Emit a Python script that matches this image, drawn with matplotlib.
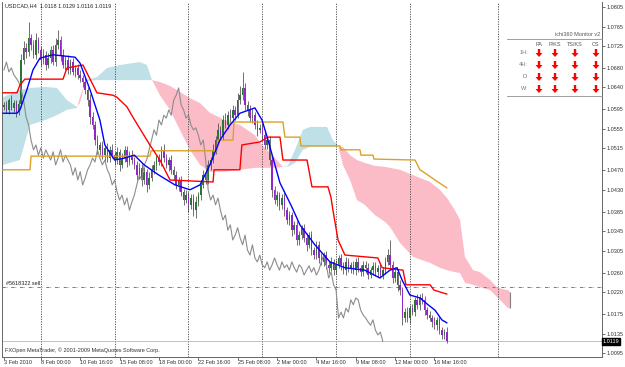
import matplotlib
matplotlib.use("Agg")
import matplotlib.pyplot as plt
from matplotlib.patches import FancyArrow
import numpy as np

plt.rcParams['font.family'] = ['Liberation Sans', 'DejaVu Sans']

# USDCAD H4 from 3 Feb 2010 12:00, prices given in pips above 1.0000
close_pips = [
    604, 594, 614, 598, 608, 590, 606,
    696, 721,
    713, 741, 727, 707, 737, 717,
    696, 707, 686, 700, 717, 692,
    727, 737,
    707, 686, 696, 676, 692, 672, 680, 666,
    659, 651, 635, 614, 579, 563,
    532, 512, 522, 501, 516, 495, 512, 501,
    491, 508, 481, 495, 512, 487, 501, 491,
    481, 460, 475, 450, 467, 440, 454, 471,
    481, 495, 487, 512, 495, 481, 491, 471,
    460, 440, 450, 425, 409, 419, 399, 413, 388, 405,
    419, 440, 460, 450, 481, 491,
    512, 532, 553, 542, 573, 563, 583, 577,
    594, 583, 614, 624,
    639,
    604, 594, 577, 583, 563, 553, 557,
    542, 522, 532, 491,
    430, 409, 419, 399, 413,
    388, 368, 378, 347, 358, 327, 337, 352, 331,
    317, 337, 306, 296, 317, 290, 282, 296, 276,
    270, 282, 265, 276, 290, 276, 265, 282, 270,
    276, 265, 282, 270, 261, 276, 270, 255, 265, 274,
    261, 270, 255, 265, 282, 296,
    276,
    249, 261, 235, 224, 167,
    179, 167, 187, 179, 204, 194, 208,
    204, 183, 173, 167, 159,
    152, 163, 142, 132, 138, 119,
]
wick_up = [
    6, 8, 5, 10, 6, 7, 9, 12, 15, 10,
    33, 8, 10, 14, 6, 9, 12, 7, 10, 8,
    11, 15, 21, 9, 12, 8, 10, 7, 9, 6,
    8, 10, 7, 9, 6, 12, 10, 8, 11, 7,
    9, 6, 10, 8, 12, 7, 9, 6, 10, 8,
    7, 9, 11, 6, 8, 10, 7, 9, 6, 12,
    10, 8, 6, 9, 7, 11, 8, 6, 10, 7,
    9, 6, 8, 7, 10, 6, 9, 8, 12, 7,
    9, 11, 8, 10, 7, 12, 9, 14, 8, 10,
    15, 9, 12, 10, 8, 14, 18, 33, 10, 8,
    9, 12, 7, 10, 8, 9, 11, 7, 8, 10,
    7, 9, 6, 8, 10, 7, 9, 6, 8, 7,
    9, 6, 8, 10, 7, 9, 6, 8, 7, 10,
    6, 8, 7, 9, 6, 10, 7, 8, 6, 9,
    7, 6, 8, 7, 9, 6, 8, 7, 10, 6,
    8, 7, 6, 9, 7, 10, 12, 30, 8, 10,
    7, 9, 6, 8, 10, 7, 9, 6, 12, 8,
    10, 7, 6, 8, 7, 9, 6, 8, 7, 6,
    10,
]
wick_dn = [
    7, 6, 9, 5, 8, 10, 6, 7, 8, 12,
    8, 10, 6, 9, 7, 12, 8, 10, 6, 9,
    7, 9, 8, 12, 6, 10, 8, 9, 7, 10,
    9, 7, 10, 8, 12, 14, 9, 11, 8, 10,
    7, 12, 8, 9, 6, 10, 8, 12, 7, 9,
    10, 7, 9, 8, 11, 7, 12, 9, 15, 8,
    7, 9, 10, 6, 8, 9, 7, 12, 8, 10,
    9, 12, 8, 10, 7, 14, 9, 11, 16, 8,
    10, 7, 9, 8, 10, 6, 9, 7, 8, 10,
    6, 9, 8, 7, 10, 6, 8, 9, 10, 12,
    8, 10, 9, 12, 7, 10, 8, 9, 11, 14,
    9, 12, 10, 8, 11, 9, 10, 12, 8, 10,
    11, 9, 8, 12, 7, 10, 9, 8, 10, 7,
    9, 8, 10, 7, 9, 8, 7, 10, 8, 9,
    8, 10, 7, 9, 8, 7, 9, 10, 8, 7,
    9, 8, 10, 7, 9, 8, 7, 9, 10, 8,
    12, 10, 14, 9, 8, 10, 7, 9, 8, 10,
    8, 10, 9, 7, 11, 8, 10, 7, 9, 8,
    3,
]

# tenkan-sen (blue)
tenkan_bar = [-0.4, 5.3, 6.5, 9.3, 11.8, 14.6, 19.9, 28.9, 30.9, 35, 39, 41, 45, 49, 53, 57,
              63, 69.5, 75.6, 79.7, 83.7, 87.8, 91.9, 95.9, 102, 104.9, 107, 112.2, 117,
              120.3, 126.4, 132.5, 138.6, 146.7, 152.8, 156.9, 159.8, 161.8, 165, 169.1,
              172.4, 175.2, 178, 180]
tenkan_pips = [587, 587, 594, 635, 676, 700, 707, 702, 690, 635, 573, 522, 491, 495, 501, 481,
               460, 440, 430, 440, 481, 532, 563, 587, 598, 573, 538, 444, 395,
               358, 317, 282, 270, 265, 249, 265, 270, 245, 214, 208,
               194, 183, 163, 157]

# kijun-sen (red)
kijun_bar = [-0.4, 5.3, 6.5, 8.5, 24, 25.6, 32.1, 34.1, 37.8, 44.3, 45.9, 50, 52.4, 59.3,
             63.4, 67.5, 85, 85.4, 95.9, 96.7, 104, 107.3, 112.2, 113.4, 123.2, 125.2,
             131.7, 132.9, 133.7, 135.8, 138.6, 152, 153.7, 162.2, 163.4, 173.2, 174.8, 180]
kijun_pips = [629, 629, 645, 657, 657, 680, 686, 666, 629, 624, 620, 600, 579, 522,
              491, 450, 446, 471, 471, 522, 528, 538, 538, 491, 491, 436,
              436, 415, 389, 327, 296, 290, 270, 265, 235, 235, 224, 216]

# higher timeframe kijun (gold)
gold_bar = [-0.4, 10.6, 11, 59.3, 59.8, 86.6, 87, 93.1, 93.5, 113.4, 114.2, 120.3, 120.7,
            136.6, 137, 144.7, 145.1, 150, 150.4, 167.1, 169.1, 172.4, 175.2, 180]
gold_pips = [471, 471, 499, 499, 510, 510, 532, 532, 569, 569, 538, 538, 520,
             520, 512, 512, 501, 501, 493, 491, 471, 460, 450, 434]

# kumo (senkou span A / B, shifted 26 bars ahead)
kumo_bar = [-0.4, 6.5, 10.6, 16.7, 21.5, 25.6, 29.7, 30.9, 33.3, 37.8, 41.9, 47.2, 52.4,
            55.3, 58.1, 60.2, 63.4, 67.5, 71.5, 75.6, 79.7, 83.7, 89.8, 95.9, 102,
            104.9, 110.2, 113.4, 115.4, 118.3, 121.5, 124.4, 131.3, 133.7, 135.8,
            137.8, 140.7, 143.5, 146.7, 150.8, 154.9, 156.9, 161, 166.3, 173.2,
            177.2, 180.1, 183.3, 185.4, 187.4, 190.7, 193.5, 197.6, 200.4, 202.8,
            204.9, 205.7]
span_a_pips = [620, 635, 639, 641, 639, 614, 600, 608, 655, 661, 680, 686, 690,
               692, 686, 655, 624, 594, 553, 512, 481, 467, 467, 471, 475,
               475, 475, 477, 479, 512, 553, 559, 559, 532, 520,
               481, 450, 409, 399, 378, 364, 354, 321, 292, 280,
               270, 265, 261, 259, 239, 235, 230, 224, 210, 198,
               187, 187]
span_b_pips = [481, 491, 563, 573, 583, 594, 598, 620, 653, 655, 655, 655, 655,
               655, 655, 655, 651, 643, 631, 618, 608, 588, 573, 563, 542,
               522, 495, 477, 477, 485, 512, 518, 518, 518, 518,
               518, 501, 491, 485, 479, 477, 475, 471, 460, 446,
               430, 413, 388, 368, 292, 265, 261, 245, 230, 226,
               224, 220]

date_bars = [0, 15, 31, 47, 63, 79, 95, 111, 127, 143, 159, 175]
date_labels = ["3 Feb 2010", "8 Feb 00:00", "10 Feb 16:00", "15 Feb 08:00", "18 Feb 00:00",
               "22 Feb 16:00", "25 Feb 08:00", "2 Mar 00:00", "4 Mar 16:00", "9 Mar 08:00",
               "12 Mar 00:00", "16 Mar 16:00"]
sep_bars = [15, 45, 75, 105, 135, 165, 201]
price_labels = ["1.0805", "1.0765", "1.0725", "1.0680", "1.0640", "1.0595", "1.0555",
                "1.0515", "1.0470", "1.0430", "1.0385", "1.0345", "1.0305", "1.0260",
                "1.0220", "1.0175", "1.0135", "1.0095"]
bid = 1.0119
order_price = 1.0230


def to_price(p):
    return 1 + np.array(p, dtype=float) / 10000


closes = to_price(close_pips)
opens = np.r_[1.0600, closes[:-1]]
highs = np.maximum(opens, closes) + np.array(wick_up) / 10000
lows = np.minimum(opens, closes) - np.array(wick_dn) / 10000
bars = np.arange(len(closes))

fig = plt.figure(figsize=(6.25, 3.67), dpi=100)
fig.patch.set_facecolor('white')
ax = fig.add_axes([2 / 625, 10 / 367, 600 / 625, 355 / 367])
ax.set_xlim(-0.8, 243.1)
ax.set_ylim(1.00868, 1.08153)

# cloud
kb = np.array(kumo_bar)
sa = to_price(span_a_pips)
sb = to_price(span_b_pips)
ax.fill_between(kb, sa, sb, where=sa >= sb, interpolate=True, color='#c0e0e8', lw=0, zorder=1)
ax.fill_between(kb, sa, sb, where=sa < sb, interpolate=True, color='#fbbcc8', lw=0, zorder=1)
ax.vlines(kb[-1], sa[-1], sb[-1], color='#808080', lw=0.8, zorder=1)

for b in sep_bars:
    ax.axvline(b, color='#444444', lw=0.6, ls=(0, (1.5, 1.5)), zorder=2)

ax.axhline(bid, color='#b8b8b8', lw=0.6, zorder=2)
ax.axhline(order_price, color='#ff4040', lw=0.7, ls=(0, (5, 4)), zorder=2)
ax.axhline(order_price, color='#9fd8e0', lw=0.7, ls=(6, (2, 7)), zorder=2)
ax.text(1, order_price + 0.0003, "#5618322 sell", fontsize=4, color='#222222', va='bottom', zorder=5)

# candles
up = closes >= opens
ax.vlines(bars, lows, highs, color='#383838', lw=0.5, zorder=3)
heights = np.where(np.abs(closes - opens) < 0.00004, 0.00004, closes - opens)
ax.bar(bars[up], heights[up], bottom=opens[up], width=0.62, color='#2a7434', lw=0, zorder=3)
ax.bar(bars[~up], heights[~up], bottom=opens[~up], width=0.62, color='#9226c8', lw=0, zorder=3)

# lines
ax.plot(bars[26:] - 26, closes[26:], color='#8c8c8c', lw=0.8, zorder=4)
ax.plot(gold_bar, to_price(gold_pips), color='#dba227', lw=1.0, zorder=4)
ax.plot(kijun_bar, to_price(kijun_pips), color='#ff0000', lw=1.0, zorder=4)
ax.plot(tenkan_bar, to_price(tenkan_pips), color='#0000ff', lw=1.0, zorder=4)

# axes
ax.yaxis.tick_right()
ax.set_yticks([float(s) for s in price_labels])
ax.set_yticklabels(price_labels)
ax.tick_params(axis='y', direction='out', length=2, width=0.5, pad=1.5, labelsize=4,
               colors='#333333')
ax.set_xticks(date_bars)
ax.set_xticklabels(date_labels, ha='left')
ax.tick_params(axis='x', direction='out', length=2, width=0.5, pad=0.5, labelsize=4,
               colors='#333333')
for name, sp in ax.spines.items():
    sp.set_color('#666666')
    sp.set_linewidth(0.7)
ax.spines['top'].set_visible(False)

ax.text(1.0015, bid, "1.0119", transform=ax.get_yaxis_transform(), fontsize=4,
        color='white', va='center', ha='left',
        bbox=dict(boxstyle='square,pad=0.15', fc='black', ec='black'))

# overlay in pixel units for the terminal texts and the monitor panel
ov = fig.add_axes([0, 0, 1, 1])
ov.set_xlim(0, 625)
ov.set_ylim(367, 0)
ov.axis('off')
ov.patch.set_alpha(0)

ov.text(5, 6, "USDCAD,H4  1.0118 1.0129 1.0116 1.0119", fontsize=4, color='#222222', va='center')
ov.text(5, 350, "FXOpen MetaTrader, \u00a9 2001-2009 MetaQuotes Software Corp.",
        fontsize=4, color='#333333', va='center')

ov.text(600, 34, "ichi360 Monitor v2", fontsize=4, color='#555555', ha='right', va='center')
ov.plot([507, 602], [39, 39], color='#909090', lw=0.6)
ov.plot([507, 602], [96, 96], color='#909090', lw=0.6)
cols = ["PA", "P/KS", "TS/KS", "CS"]
col_x = [539, 555, 575, 596]
rows = ["1H:", "4H:", "D:", "W:"]
row_y = [53, 65, 77, 89]
for c, cx in zip(cols, col_x):
    ov.text(cx, 44, c, fontsize=4, color='#555555', ha='center', va='center')
for r, ry in zip(rows, row_y):
    ov.text(528, ry, r, fontsize=4, color='#777777', ha='right', va='center')
    for cx in col_x:
        ov.add_patch(FancyArrow(cx, ry - 4, 0, 8, width=2.4, head_width=7, head_length=4,
                                length_includes_head=True, color='#ff0000', lw=0))

fig.savefig("out.png", dpi=100, facecolor='white')
